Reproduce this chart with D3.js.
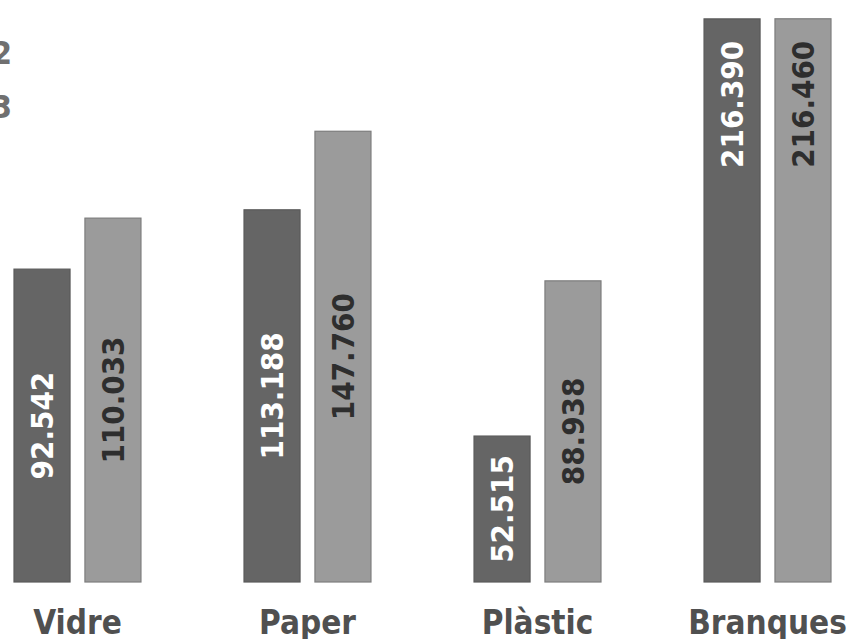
<!DOCTYPE html>
<html>
<head>
<meta charset="utf-8">
<script src="https://cdn.jsdelivr.net/npm/d3@7"></script>
<style>
  body { margin: 0; background: #fff; }
  svg { display: block; }
  text { font-family: "DejaVu Sans Condensed", "DejaVu Sans", sans-serif; font-weight: bold; }
</style>
</head>
<body>
<svg id="chart" width="863" height="639"></svg>
<script>
// data
let categories = ["Vidre", "Paper", "Plàstic", "Branques"]
let years = ["2012", "2013"]
let values2012 = [92.542, 113.188, 52.515, 216.390]
let values2013 = [110.033, 147.760, 88.938, 216.460]
let valueLabels2012 = ["92.542", "113.188", "52.515", "216.390"]
let valueLabels2013 = ["110.033", "147.760", "88.938", "216.460"]

let W = 863, H = 639
let baseline = 582
let svg = d3.select("#chart")

let rows = []
categories.forEach(function(c, i){
    rows.push({cat: c, year: "2012", v: values2012[i], label: valueLabels2012[i]})
    rows.push({cat: c, year: "2013", v: values2013[i], label: valueLabels2013[i]})
})

let x0 = d3.scaleBand().domain(categories).range([14, 831]).paddingInner(0.448).paddingOuter(0)
let x1 = d3.scaleBand().domain(years).range([0, x0.bandwidth()]).paddingInner(0.21)
// the infographic bars are not drawn on a plain linear axis; a log scale follows them best
let yScale = d3.scaleLog().domain([32, 220]).range([baseline, 14])

let fill = {"2012": "#656565", "2013": "#9b9b9b"}
let stroke = {"2012": "#5a5a5a", "2013": "#7d7d7d"}
let textColor = {"2012": "#ffffff", "2013": "#2e2e2e"}

// legend (cut off on the left in the original)
svg.selectAll(".legend")
    .data(years)
    .enter()
    .append("text")
    .attr("x", 12)
    .attr("y", (d, i) => 64 + i * 54)
    .attr("text-anchor", "end")
    .style("font-size", "32px")
    .style("fill", "#707070")
    .text(d => d)

// bars
let bars = svg.selectAll(".bar")
    .data(rows)
    .enter()
    .append("g")
    .attr("transform", d => `translate(${x0(d.cat) + x1(d.year)},0)`)

bars.append("rect")
    .attr("x", 0)
    .attr("y", d => yScale(d.v))
    .attr("width", x1.bandwidth())
    .attr("height", d => baseline - yScale(d.v))
    .style("fill", d => fill[d.year])
    .style("stroke", d => stroke[d.year])
    .style("stroke-width", 1.2)

// value labels, rotated; tall bars get the label near their top
bars.append("text")
    .attr("transform", function(d){
        let top = yScale(d.v)
        let h = baseline - top
        let cx = x1.bandwidth() / 2
        if (h > 500) {
            return `translate(${cx},${top + 22}) rotate(-90)`
        }
        return `translate(${cx},${top + h / 2}) rotate(-90)`
    })
    .attr("text-anchor", d => (baseline - yScale(d.v)) > 500 ? "end" : "middle")
    .attr("dominant-baseline", "central")
    .style("font-size", "31px")
    .style("fill", d => textColor[d.year])
    .text(d => d.label)

// category labels
svg.selectAll(".cat")
    .data(categories)
    .enter()
    .append("text")
    .attr("x", d => x0(d) + x0.bandwidth() / 2)
    .attr("y", 634)
    .attr("text-anchor", "middle")
    .style("font-size", "33px")
    .style("fill", "#505050")
    .text(d => d)
</script>
</body>
</html>
